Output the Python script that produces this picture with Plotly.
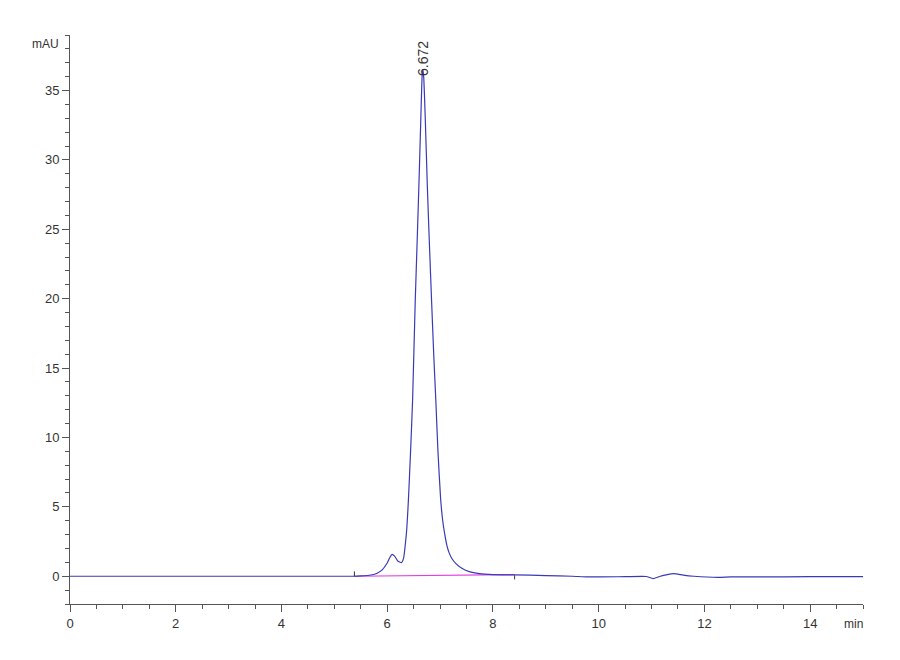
import plotly.graph_objects as go

# retention time (min) and absorbance (mAU)
time_min = [0.0, 2.0, 4.0, 5.0, 5.38, 5.5, 5.66, 5.8, 5.91, 6.0, 6.05, 6.09, 6.14, 6.2, 6.27,
            6.31, 6.34, 6.37, 6.40, 6.44, 6.48, 6.53, 6.57, 6.61, 6.64, 6.66, 6.672, 6.69,
            6.72, 6.76, 6.80, 6.84, 6.88, 6.92, 6.96, 7.01, 7.05, 7.09, 7.13, 7.17, 7.22,
            7.30, 7.42, 7.55, 7.74, 8.0, 8.41, 9.0, 9.5, 9.8, 10.5, 10.9, 11.03, 11.15,
            11.3, 11.42, 11.6, 11.8, 12.26, 12.5, 13.0, 14.0, 15.0]
signal_mau = [0.0, 0.0, 0.0, 0.0, 0.0, 0.02, 0.07, 0.2, 0.48, 0.95, 1.35, 1.58, 1.45, 1.1, 0.98,
              1.3, 2.2, 3.4, 5.4, 8.8, 12.65, 19.8, 24.5, 29.5, 33.5, 36.0, 36.5, 36.0,
              33.0, 28.0, 23.8, 19.8, 16.0, 12.65, 9.0, 5.6, 4.0, 3.0, 2.2, 1.7, 1.3,
              0.91, 0.55, 0.33, 0.19, 0.12, 0.1, 0.05, 0.0, -0.05, -0.03, -0.02, -0.17, -0.02,
              0.12, 0.19, 0.08, 0.0, -0.08, -0.05, -0.05, -0.03, -0.03]

# integration baseline of the main peak
baseline_t = [5.38, 8.41]
baseline_v = [0.0, 0.12]

peak_rt = 6.672
peak_height = 36.5
peak_label = "6.672"

x_ticks = [0, 2, 4, 6, 8, 10, 12, 14]
y_ticks = [0, 5, 10, 15, 20, 25, 30, 35]

fig = go.Figure()
fig.add_trace(go.Scatter(x=baseline_t, y=baseline_v, mode="lines",
                         line=dict(color="#e040e0", width=1.2), hoverinfo="skip"))
fig.add_trace(go.Scatter(x=time_min, y=signal_mau, mode="lines",
                         line=dict(color="#3a3ab8", width=1.2, shape="spline", smoothing=0.5)))

# peak start / end markers
fig.add_shape(type="line", x0=baseline_t[0], x1=baseline_t[0], y0=baseline_v[0], y1=baseline_v[0] + 0.35,
              line=dict(color="#333333", width=1))
fig.add_shape(type="line", x0=baseline_t[1], x1=baseline_t[1], y0=baseline_v[1] - 0.35, y1=baseline_v[1] - 0.05,
              line=dict(color="#333333", width=1))

fig.add_annotation(x=peak_rt, y=peak_height, text=peak_label, textangle=-90, showarrow=False,
                   xanchor="center", yanchor="bottom", yshift=-8,
                   font=dict(family="Liberation Sans, Arial", size=14, color="#333333"))

fig.add_annotation(x=1, xref="paper", y=0, yref="paper", text="min", showarrow=False,
                   xanchor="right", yanchor="top", xshift=2, yshift=-11,
                   font=dict(family="Liberation Sans, Arial", size=12, color="#333333"))
fig.add_annotation(x=0, xref="paper", y=1, yref="paper", text="mAU", showarrow=False,
                   xanchor="right", yanchor="top", xshift=-9, yshift=0,
                   font=dict(family="Liberation Sans, Arial", size=12, color="#333333"))

axis_font = dict(family="Liberation Sans, Arial", size=13, color="#333333")
fig.update_xaxes(range=[0, 15], tickvals=x_ticks, ticks="outside", ticklen=7, tickcolor="#555555",
                 showline=True, linecolor="#555555", linewidth=1, showgrid=False, zeroline=False,
                 tickfont=axis_font,
                 minor=dict(dtick=0.5, ticks="outside", ticklen=4, tickcolor="#555555", showgrid=False))
fig.update_yaxes(range=[-2, 39], tickvals=y_ticks, ticks="outside", ticklen=7, tickcolor="#555555",
                 showline=True, linecolor="#555555", linewidth=1, showgrid=False, zeroline=False,
                 tickfont=axis_font,
                 minor=dict(dtick=1, ticks="outside", ticklen=4, tickcolor="#555555", showgrid=False))
fig.update_layout(width=900, height=660, margin=dict(l=62, r=45, t=27, b=64),
                  paper_bgcolor="white", plot_bgcolor="white", showlegend=False)

fig.write_html("out.html")
